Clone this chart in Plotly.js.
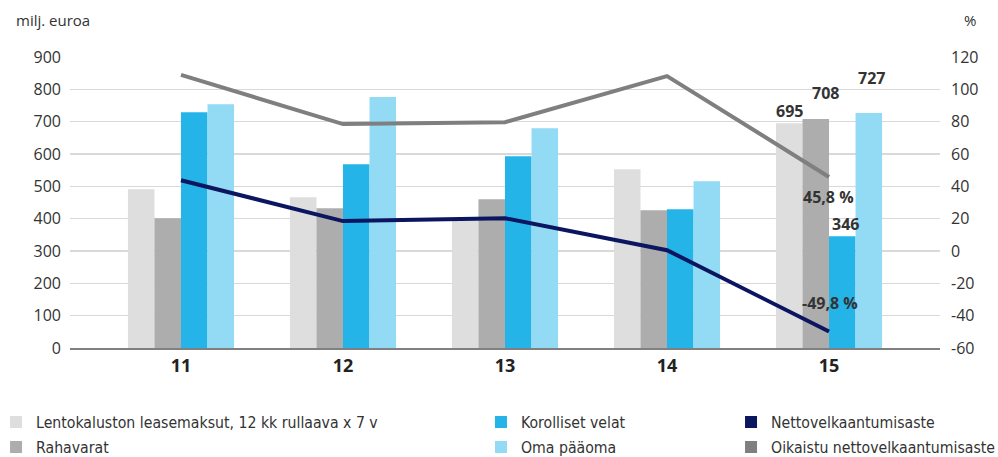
<!DOCTYPE html>
<html>
<head>
<meta charset="utf-8">
<script src="https://cdn.plot.ly/plotly-3.0.1.min.js"></script>
<style>html,body{margin:0;padding:0;background:#fff;}#chart{width:998px;height:457px;}</style>
</head>
<body>
<div id="chart"></div>
<script>
const categories = ['11', '12', '13', '14', '15'];
const leaseValues = [491, 466, 398, 553, 695];
const cashValues = [401, 432, 460, 426, 708];
const debtValues = [729, 568, 593, 429, 346];
const equityValues = [754, 776, 680, 516, 727];
const gearingValues = [43.8, 18.5, 20.3, 0.5, -49.8];
const adjGearingValues = [108.9, 78.5, 79.7, 108.2, 45.8];
const rightTickValues = [-60, -40, -20, 0, 20, 40, 60, 80, 100, 120];
const rightTickLabels = ['-60', '-40', '-20', '0', '20', '40', '60', '80', '100', '120'];

const names = {
  lease: 'Lentokaluston leasemaksut, 12 kk rullaava x 7 v',
  cash: 'Rahavarat',
  debt: 'Korolliset velat',
  equity: 'Oma pääoma',
  gearing: 'Nettovelkaantumisaste',
  adj: 'Oikaistu nettovelkaantumisaste'
};
const colors = {
  lease: '#dedede', cash: '#adadad', debt: '#25b4e8', equity: '#93daf4',
  gearing: '#0b1560', adj: '#7f7f7f'
};

const tickFont = 'Open Sans, Noto Sans, sans-serif';
const legendFont = 'Liberation Sans Narrow, DejaVu Sans Condensed, Open Sans, sans-serif';

function bar(key, vals, legend, group) {
  return {type: 'bar', x: categories, y: vals, name: names[key],
    marker: {color: colors[key], line: {width: 0}}, legend: legend, legendgroup: group,
    hoverinfo: 'skip'};
}
const traces = [
  bar('lease', leaseValues, 'legend', 'a'),
  bar('cash', cashValues, 'legend', 'b'),
  bar('debt', debtValues, 'legend2', 'c'),
  bar('equity', equityValues, 'legend2', 'd'),
  {type: 'scatter', mode: 'lines', x: categories, y: adjGearingValues, yaxis: 'y2',
    line: {color: colors.adj, width: 4}, showlegend: false, hoverinfo: 'skip'},
  {type: 'scatter', mode: 'lines', x: categories, y: gearingValues, yaxis: 'y2',
    line: {color: colors.gearing, width: 4}, showlegend: false, hoverinfo: 'skip'},
  {type: 'scatter', mode: 'markers', x: [null], y: [null], yaxis: 'y2', name: names.gearing,
    marker: {symbol: 'square', size: 12, color: colors.gearing}, legend: 'legend3', legendgroup: 'e'},
  {type: 'scatter', mode: 'markers', x: [null], y: [null], yaxis: 'y2', name: names.adj,
    marker: {symbol: 'square', size: 12, color: colors.adj}, legend: 'legend3', legendgroup: 'f'}
];

const lblFont = {family: tickFont, size: 16, color: '#333', weight: 'bold'};
function ann(text, x, y, yref, xshift, yshift) {
  return {text: '<b>' + text + '</b>', x: x, y: y, xref: 'x', yref: yref, showarrow: false,
    xshift: xshift, yshift: yshift, font: lblFont, xanchor: 'center', yanchor: 'middle'};
}
const last = categories.length - 1;
const annotations = [
  ann(String(leaseValues[last]), last, leaseValues[last], 'y', -40, 12),
  ann(String(cashValues[last]), last, cashValues[last], 'y', -4, 26),
  ann(String(equityValues[last]), last, equityValues[last], 'y', 42, 35),
  ann(String(debtValues[last]), last, debtValues[last], 'y', 16, 12),
  ann(adjGearingValues[last].toFixed(1).replace('.', ',') + ' %', last, adjGearingValues[last], 'y2', -1, -20),
  ann(gearingValues[last].toFixed(1).replace('.', ',') + ' %', last, gearingValues[last], 'y2', 1, 29),
  {text: 'milj. euroa', xref: 'paper', yref: 'paper', x: -0.064, y: 1.127, xanchor: 'left', yanchor: 'middle',
    showarrow: false, font: {family: tickFont, size: 15, color: '#333'}},
  {text: '%', xref: 'paper', yref: 'paper', x: 1.025, y: 1.127, xanchor: 'left', yanchor: 'middle',
    showarrow: false, font: {family: tickFont, size: 15, color: '#333'}}
];

const legendBase = {bgcolor: 'rgba(0,0,0,0)', font: {family: legendFont, size: 15.7, color: '#333'},
  yanchor: 'top', y: -0.197, xanchor: 'left', traceorder: 'grouped', tracegroupgap: 1.5,
  itemclick: false, itemdoubleclick: false};

const layout = {
  width: 998, height: 457,
  margin: {l: 70, r: 58, t: 57, b: 109, autoexpand: false},
  paper_bgcolor: '#fff', plot_bgcolor: '#fff',
  barmode: 'group', bargap: 0.345, bargroupgap: 0,
  xaxis: {type: 'category', range: [-0.685, 4.685], showgrid: false, zeroline: false,
    showline: true, linecolor: '#808080', linewidth: 2, ticks: '',
    tickfont: {family: tickFont, size: 18, color: '#222', weight: 'bold'}, fixedrange: true},
  yaxis: {range: [0, 900], dtick: 100, showgrid: true, gridcolor: '#d9d9d9', gridwidth: 1.5,
    zeroline: false, ticks: '', ticklabelstandoff: 8,
    tickfont: {family: tickFont, size: 16, color: '#333'}, fixedrange: true},
  yaxis2: {range: [-60, 120], tickmode: 'array', tickvals: rightTickValues, ticktext: rightTickLabels,
    overlaying: 'y', side: 'right', showgrid: false,
    zeroline: false, ticks: '', ticklabelstandoff: 10,
    tickfont: {family: tickFont, size: 16, color: '#333'}, fixedrange: true},
  legend: Object.assign({}, legendBase, {x: -0.085}),
  legend2: Object.assign({}, legendBase, {x: 0.4724}),
  legend3: Object.assign({}, legendBase, {x: 0.7598}),
  annotations: annotations,
  showlegend: true
};

Plotly.newPlot('chart', traces, layout, {staticPlot: true, displayModeBar: false});
</script>
</body>
</html>
